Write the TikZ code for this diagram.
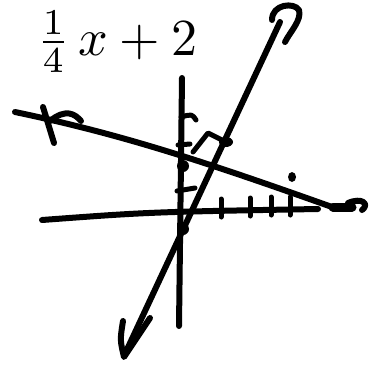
\documentclass[tikz,border=0pt]{standalone}
\usepackage{amsmath}
\usepackage{tikz}
\usetikzlibrary{calc,positioning}

\tikzset{
  pen/.style={line width=6pt,line cap=round,line join=round},
  thinpen/.style={line width=5pt,line cap=round,line join=round},
  blob/.style={fill,inner sep=0pt,minimum size=12pt,circle}
}

\begin{document}
\begin{tikzpicture}[x=1pt,y=-1pt]
    \useasboundingbox (0,0) rectangle (372,364);

    % equation
    \node[anchor=east,inner sep=0pt] (eqn) at (198,42) {\scalebox{5.2}{$\frac{1}{4}\,x+2$}};

    % axes
    \coordinate (ytop) at (182,78);
    \coordinate (ybot) at (179,326);
    \coordinate (xleft) at (42,220);
    \coordinate (xright) at (318,209);
    \draw[pen] (ytop) -- (ybot);
    \draw[pen] (xleft) .. controls (150,212) .. (xright);
    \foreach \x/\y in {221/208,250/207,271/206,290/206} {
      \draw[thinpen] (\x,\y-9) -- (\x,\y+9);
    }

    % ticks on the y axis
    \draw[thinpen] (181,117) .. controls (192,114) .. (196,120);
    \draw[thinpen] (178,145) -- (190,144);
    \draw[thinpen] (177,191) -- (195,188);

    % line with negative slope
    \draw[pen] (15,112) .. controls (120,134) and (200,160) .. (332,207);
    \draw[pen] (43,107) .. controls (48,125) .. (54,143);
    \draw[pen] (50,121) .. controls (66,108) and (75,114) .. (81,121);
    \draw[pen,line width=9pt] (333,207) -- (352,207);
    \draw[pen] (348,203) .. controls (362,197) and (370,204) .. (362,210);

    % line with positive slope
    \coordinate (ptop) at (280,22);
    \coordinate (pbot) at (124,356);
    \draw[pen] (pbot) -- (ptop);
    \draw[pen] (272,20) .. controls (272,4) and (294,2) .. (299,10)
                        .. controls (302,20) and (290,32) .. (285,42);
    \draw[pen] (123,321) .. controls (120,340) .. (124,357) -- (150,318);

    % right angle mark
    \draw[thinpen] (193,152) -- (208,133) -- (222,140);
    \fill (226,142) ellipse (7pt and 5pt);

    % points
    \node[blob] (yint) at (183,166) {};
    \node[blob] (ylow) at (183,229) {};
    \fill (292,177) ellipse (4pt and 5pt);
\end{tikzpicture}
\end{document}
